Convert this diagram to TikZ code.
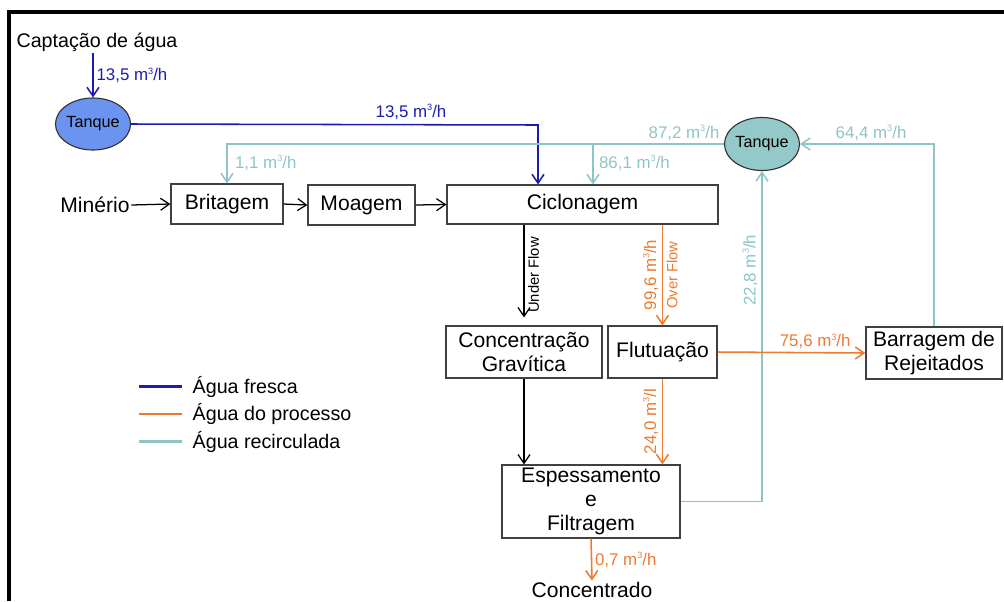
\documentclass[tikz,border=0pt]{standalone}
\usepackage{fontspec}
\setmainfont{Liberation Sans}
\usetikzlibrary{arrows.meta,positioning,shapes.geometric}
\definecolor{fresca}{RGB}{28,28,178}
\definecolor{processo}{RGB}{236,122,48}
\definecolor{recirc}{RGB}{142,196,196}
\definecolor{tanqueazul}{RGB}{106,148,240}
\definecolor{tanqueverde}{RGB}{147,201,201}
\newcommand{\cubo}{\raisebox{0.75ex}{\fontsize{6.5}{7}\selectfont 3}}
\newcommand{\vazao}[1]{#1~m\cubo/h}

\begin{document}
\begin{tikzpicture}[x=0.025cm,y=-0.025cm,
		>={Straight Barb[length=2.2mm,width=3mm]},
		etapa/.style={draw=black!75,line width=0.8pt,inner sep=0pt,align=center,font=\fontsize{15}{17}\selectfont},
		tanque/.style={ellipse,draw=black!80,line width=0.8pt,inner sep=0pt,font=\fontsize{11.5}{13}\selectfont},
		texto/.style={inner sep=1pt,font=\fontsize{15}{17}\selectfont},
		fluxo/.style={line width=1.1pt,->},
		rotulo/.style={inner sep=2pt,font=\fontsize{12}{14}\selectfont},
		ramo/.style={inner sep=2.5pt,font=\fontsize{10.5}{12}\selectfont,rotate=90},
		legenda/.style={line width=2pt}]
	\useasboundingbox (0,0) rectangle (1004,601);
	% moldura
	\draw[line width=2.8pt] (9,601) -- (9,12) -- (1004,12);

	% etapas
	\node[texto,font=\fontsize{14}{16}\selectfont] (capt) at (97,42) {Captação de água};
	\node[tanque,fill=tanqueazul,minimum width=1.75cm,minimum height=1.3cm] (tq1) at (93,124) {Tanque};
	\node[tanque,fill=tanqueverde,minimum width=1.675cm,minimum height=1.325cm] (tq2) at (762,144) {Tanque};
	\node[texto] (min) at (95,205) {Minério};
	\node[etapa,minimum width=2.8cm,minimum height=1cm] (brit) at (227,204) {Britagem};
	\node[etapa,minimum width=2.675cm,minimum height=1cm] (moag) at (361.5,205) {Moagem};
	\node[etapa,minimum width=6.775cm,minimum height=0.975cm] (cicl) at (582.5,204.5) {Ciclonagem};
	\node[etapa,minimum width=3.9cm,minimum height=1.3cm] (conc) at (524,352) {Concentração\\Gravítica};
	\node[etapa,minimum width=2.725cm,minimum height=1.3cm] (flut) at (662.5,352) {Flutuação};
	\node[etapa,minimum width=3.4cm,minimum height=1.3cm] (barr) at (934,353) {Barragem de\\Rejeitados};
	\node[etapa,minimum width=4.45cm,minimum height=1.825cm] (esp) at (591,501.5) {Espessamento\\e\\Filtragem};
	\node[texto] (concd) at (592,590) {Concentrado};

	% agua fresca
	\draw[fluxo,fresca] (tq1.north |- capt.south) -- node[rotulo,right,text=fresca]{\vazao{13,5}} (tq1.north);
	\coordinate (entrada) at (538,125);
	\draw[fluxo,fresca] (tq1.east) -- (entrada) -- (entrada |- cicl.north);
	\node[rotulo,text=fresca] (l135) at (411,112) {\vazao{13,5}};

	% minerio
	\draw[->,line width=0.9pt] (min.east) -- (brit.west);
	\draw[->,line width=0.9pt] (brit.east) -- (moag.west);
	\draw[->,line width=0.9pt] (moag.east) -- (cicl.west);
	\draw[->,line width=0.9pt,shorten >=2mm] (cicl.south -| conc.north) -- node[ramo,below]{Under Flow} (conc.north);
	\draw[->,line width=0.9pt] (conc.south) -- (conc.south |- esp.north);

	% agua recirculada
	\coordinate (desvio) at (593,144);
	\draw[fluxo,recirc] (tq2.west) -| (brit.north);
	\draw[fluxo,recirc] (desvio) -- (desvio |- cicl.north);
	\draw[fluxo,recirc] (barr.north) |- (tq2.east);
	\draw[fluxo,recirc] (esp.east) -| node[ramo,above,pos=0.85,text=recirc,font=\fontsize{12}{14}\selectfont]{\vazao{22,8}} (tq2.south);
	\node[rotulo,text=recirc] (l872) at (684,133) {\vazao{87,2}};
	\node[rotulo,text=recirc] (l644) at (871,133) {\vazao{64,4}};
	\node[rotulo,text=recirc,anchor=west] (l11) at (232,163) {\vazao{1,1}};
	\node[rotulo,text=recirc,anchor=west] (l861) at (596,163) {\vazao{86,1}};

	% agua do processo
	\draw[fluxo,processo] (cicl.south -| flut.north) -- node[ramo,above,text=processo,font=\fontsize{12}{14}\selectfont]{\vazao{99,6}} node[ramo,below]{Over Flow} (flut.north);
	\draw[fluxo,processo] (flut.south) -- node[ramo,above,text=processo,font=\fontsize{12}{14}\selectfont]{24,0 m\cubo/l} (flut.south |- esp.north);
	\draw[fluxo,processo] (flut.east) -- node[rotulo,above,pos=0.66,text=processo]{\vazao{75,6}} (barr.west);
	\draw[fluxo,processo] (esp.south) -- node[rotulo,right,text=processo]{\vazao{0,7}} (concd.north);

	% legenda
	\foreach \cor/\nome [count=\i] in {fresca/Água fresca,processo/Água do processo,recirc/Água recirculada} {
		\coordinate (leg\i) at (139,359+27.5*\i);
		\draw[legenda,\cor] (leg\i) -- ++(43,0);
		\node[texto,anchor=west,font=\fontsize{14}{16}\selectfont] (txt\i) at (191,359+27.5*\i) {\nome};
	}
\end{tikzpicture}
\end{document}
